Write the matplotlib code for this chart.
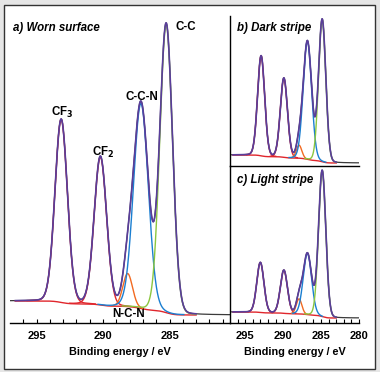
import numpy as np
import matplotlib.pyplot as plt
from matplotlib.patches import Rectangle

plt.rcParams['font.family'] = ['Liberation Sans', 'DejaVu Sans']
plt.rcParams['font.weight'] = 'bold'

# peak fit parameters: CF3, CF2, N-C-N, C-C-N, C-C
peak_names = ['CF3', 'CF2', 'N-C-N', 'C-C-N', 'C-C']
peak_centers_a = [293.15, 290.2, 288.15, 287.15, 285.25]
peak_heights_a = [183, 148, 33, 205, 288]
peak_fwhm_a = [1.1, 1.1, 0.85, 1.3, 1.12]
bg_ends_a = [22, 8]  # background high BE / low BE side

peak_centers_b = [292.9, 289.9, 287.9, 286.8, 284.85]
peak_heights_b = [100, 79, 13, 118, 142]
peak_fwhm_b = [1.1, 1.1, 0.85, 1.3, 1.12]
bg_ends_b = [11, 3]

peak_centers_c = [293.0, 289.9, 287.9, 286.8, 284.85]
peak_heights_c = [50, 43, 15, 61, 146]
peak_fwhm_c = [1.1, 1.1, 0.85, 1.3, 1.12]
bg_ends_c = [11, 5]

peak_colors = ['#e0262c', '#e0262c', '#f26a21', '#1b7fd1', '#8cc63f']
env_color = '#5a3e9b'
bg_color = '#e0262c'

E = np.linspace(297.5, 279.5, 1441)
fit_lo, fit_hi = 283.0, 296.6


def peak(center, height, fwhm):
    s = fwhm / 2.3548
    g = np.exp(-(E - center) ** 2 / (2 * s ** 2))
    l = 1 / (1 + ((E - center) / (fwhm / 2)) ** 2)
    return height * (0.95 * g + 0.05 * l)


def draw(ax, centers, heights, fwhm, bg_ends):
    comps = [peak(c, h, w) for c, h, w in zip(centers, heights, fwhm)]
    total = np.sum(comps, axis=0)
    # Shirley type step background
    cum = np.cumsum(total[::-1])[::-1]
    bg = bg_ends[1] + (bg_ends[0] - bg_ends[1]) * cum / cum[0]
    env = bg + total
    fit = (E >= fit_lo) & (E <= fit_hi)
    ax.plot(E, env, color='#3a3a3a', lw=0.9, zorder=2)
    ax.plot(E[fit], bg[fit], color=bg_color, lw=1.0, zorder=3)
    for comp, col in zip(comps, peak_colors):
        m = fit & (comp > 0.4)
        ax.plot(E[m], (bg + comp)[m], color=col, lw=1.0, zorder=4)
    ax.plot(E[fit], env[fit], color=env_color, lw=1.2, zorder=5)


fig = plt.figure(figsize=(3.8, 3.72), dpi=100)
fig.patch.set_facecolor('#e6e6e6')
fig.patches.append(Rectangle((4 / 380, 1 - 369 / 372), 371 / 380, 364 / 372,
                             transform=fig.transFigure, facecolor='white',
                             edgecolor='#333333', lw=1.0, zorder=-5))

ax_a = fig.add_axes([10 / 380, 49 / 372, 220 / 380, 307 / 372])
ax_b = fig.add_axes([230 / 380, 206 / 372, 129 / 380, 150 / 372])
ax_c = fig.add_axes([230 / 380, 49 / 372, 129 / 380, 157 / 372])

draw(ax_a, peak_centers_a, peak_heights_a, peak_fwhm_a, bg_ends_a)
draw(ax_b, peak_centers_b, peak_heights_b, peak_fwhm_b, bg_ends_b)
draw(ax_c, peak_centers_c, peak_heights_c, peak_fwhm_c, bg_ends_c)

ax_a.set_xlim(297, 280.45)
ax_a.set_ylim(0, 307)
ax_b.set_xlim(297, 280)
ax_b.set_ylim(0, 150)
ax_c.set_xlim(297, 280)
ax_c.set_ylim(0, 157)

for ax in (ax_a, ax_b, ax_c):
    ax.set_facecolor('none')
    ax.set_yticks([])
    ax.spines['top'].set_visible(False)
    ax.spines['right'].set_visible(False)
    for sp in ax.spines.values():
        sp.set_linewidth(1.0)
ax_a.spines['left'].set_visible(False)

for ax in (ax_a, ax_c):
    ax.set_xticks([295, 290, 285] if ax is ax_a else [295, 290, 285, 280])
    ax.set_xticks(np.arange(281, 297), minor=True)
    ax.tick_params(axis='x', which='both', direction='in', length=3, width=0.8,
                   labelsize=8, pad=5.5)
    ax.set_xlabel('Binding energy / eV', fontsize=7.8, fontweight='bold', labelpad=4.5)
ax_b.set_xticks([])

ann = dict(fontsize=8.3, fontweight='bold', ha='center', va='center')
ax_a.text(293.1, 211, 'CF$_\\mathbf{3}$', **ann)
ax_a.text(289.97, 171, 'CF$_\\mathbf{2}$', **ann)
ax_a.text(287.1, 226, 'C-C-N', **ann)
ax_a.text(284.55, 296, 'C-C', fontsize=8.3, fontweight='bold', ha='left', va='center')
ax_a.text(288.1, 9, 'N-C-N', **ann)

title = dict(fontsize=8.3, fontweight='bold', style='italic', ha='left', va='center')
ax_a.text(0.014, 0.961, 'a) Worn surface', transform=ax_a.transAxes, **title)
ax_b.text(0.054, 0.92, 'b) Dark stripe', transform=ax_b.transAxes, **title)
ax_c.text(0.054, 0.911, 'c) Light stripe', transform=ax_c.transAxes, **title)

fig.savefig('out.png', dpi=100, facecolor=fig.get_facecolor())
